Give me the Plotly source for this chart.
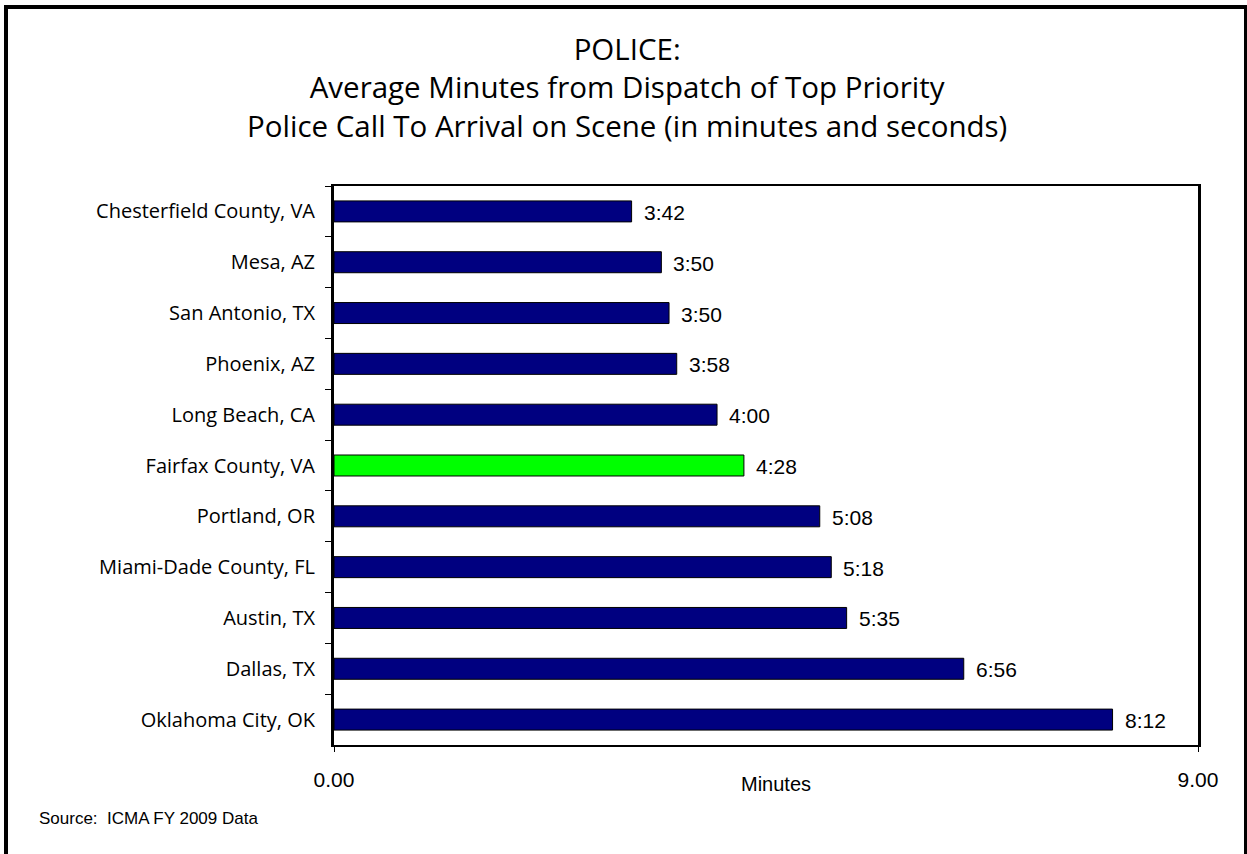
import plotly.graph_objects as go

cities = ["Chesterfield County, VA", "Mesa, AZ", "San Antonio, TX", "Phoenix, AZ",
          "Long Beach, CA", "Fairfax County, VA", "Portland, OR", "Miami-Dade County, FL",
          "Austin, TX", "Dallas, TX", "Oklahoma City, OK"]
values = [3.10, 3.41, 3.49, 3.57, 3.99, 4.27, 5.06, 5.18, 5.34, 6.56, 8.11]
labels = ["3:42", "3:50", "3:50", "3:58", "4:00", "4:28", "5:08", "5:18", "5:35", "6:56", "8:12"]
highlight = "Fairfax County, VA"
x_ticks = [0, 9]
x_tick_text = ["0.00", "9.00"]
title_lines = ["POLICE:",
               "Average Minutes from Dispatch of Top Priority",
               "Police Call To Arrival on Scene (in minutes and seconds)"]

W, H = 1247, 854
L, R, T, B = 334, 49, 186, 109
TITLE_FONT = "Open Sans, Liberation Sans, Arial, sans-serif"
NUM_FONT = "Liberation Sans, Arial, sans-serif"

colors = ["#00FF00" if c == highlight else "#000080" for c in cities]

fig = go.Figure(go.Bar(
    x=values, y=cities, orientation="h",
    marker=dict(color=colors, line=dict(color="#000000", width=1)),
    hoverinfo="skip",
))

for c, v, t in zip(cities, values, labels):
    fig.add_annotation(x=v, y=c, xref="x", yref="y", text=t, showarrow=False,
                       xanchor="left", yanchor="middle", xshift=10, yshift=-1,
                       font=dict(family=NUM_FONT, size=21, color="#000"))

pw = W - L - R
ph = H - T - B
def px(x):
    return (x - L) / pw
def py(y):
    return (H - B - y) / ph

fig.add_annotation(x=px(627), y=py(87), xref="paper", yref="paper",
                   text="<br>".join(title_lines), align="center",
                   showarrow=False, xanchor="center", yanchor="middle",
                   font=dict(family=TITLE_FONT, size=29.5, color="#000"))

fig.add_annotation(x=px(776), y=py(784), xref="paper", yref="paper", text="Minutes",
                   showarrow=False, xanchor="center", yanchor="middle",
                   font=dict(family=NUM_FONT, size=20, color="#000"))
fig.add_annotation(x=px(37), y=py(818), xref="paper", yref="paper", text="Source:  ICMA FY 2009 Data",
                   showarrow=False, xanchor="left", yanchor="middle",
                   font=dict(family=NUM_FONT, size=17, color="#000"))

# outer frame
fig.add_shape(type="rect", xref="paper", yref="paper",
              x0=px(6), x1=px(1246), y0=py(880), y1=py(7),
              line=dict(color="#000", width=4), fillcolor="rgba(0,0,0,0)", layer="above")

fig.update_layout(
    width=W, height=H,
    margin=dict(l=L, r=R, t=T, b=B, autoexpand=False),
    paper_bgcolor="white", plot_bgcolor="white",
    showlegend=False,
    bargap=0.587,
    xaxis=dict(range=[0, 9], tickvals=x_ticks, ticktext=x_tick_text,
               showgrid=False, zeroline=False, showline=True, linecolor="#000", linewidth=2,
               mirror=True, ticks="outside", ticklen=5, tickcolor="#000",
               ticklabelstandoff=10,
               tickfont=dict(family=NUM_FONT, size=21, color="#000")),
    yaxis=dict(autorange="reversed", categoryorder="array", categoryarray=cities,
               showgrid=False, zeroline=False, showline=True, linecolor="#000", linewidth=3,
               mirror=True, ticks="outside", ticklen=6, tickcolor="#000", tickson="boundaries",
               ticklabelstandoff=12,
               tickfont=dict(family=TITLE_FONT, size=20, color="#000")),
)

fig.write_html("out.html", config={"displayModeBar": False},
               post_script="document.body.style.margin='0px';")
